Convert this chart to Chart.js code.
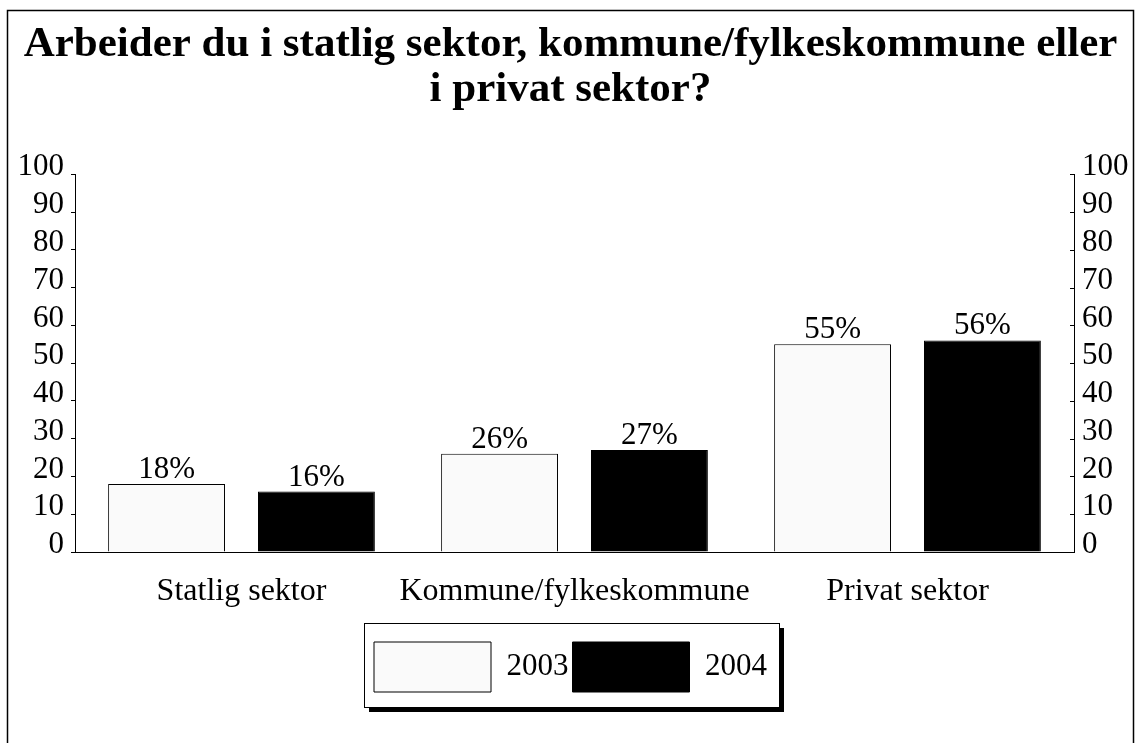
<!DOCTYPE html>
<html>
<head>
<meta charset="utf-8">
<script src="https://cdn.jsdelivr.net/npm/chart.js@4.4.0/dist/chart.umd.min.js"></script>
<style>
  html, body { margin: 0; padding: 0; background: #fff; }
  #wrap { width: 1141px; height: 743px; position: relative; }
</style>
</head>
<body>
<div id="wrap"><canvas id="chart" width="1141" height="743"></canvas></div>
<script>
// data
const categories = ['Statlig sektor', 'Kommune/fylkeskommune', 'Privat sektor'];
const seriesNames = ['2003', '2004'];
const values2003 = [18, 26, 55];
const values2004 = [16, 27, 56];
const titleLines = ['Arbeider du i statlig sektor, kommune/fylkeskommune eller', 'i privat sektor?'];
const yMin = 0;
const yMax = 100;
const yStep = 10;

const FONT = "'Liberation Serif', 'Times New Roman', serif";
Chart.defaults.font.family = FONT;
Chart.defaults.color = '#000';

// ramme rundt hele figuren
const framePlugin = {
  id: 'frame',
  beforeDraw(chart) {
    const ctx = chart.ctx;
    ctx.save();
    ctx.strokeStyle = '#000';
    ctx.lineWidth = 1.5;
    ctx.beginPath();
    ctx.moveTo(7.5, chart.height + 5);
    ctx.lineTo(7.5, 10.5);
    ctx.lineTo(1133.5, 10.5);
    ctx.lineTo(1133.5, chart.height + 5);
    ctx.stroke();
    ctx.restore();
  }
};

// boks med skygge bak legenden
const legendBoxPlugin = {
  id: 'legendBox',
  beforeDraw(chart) {
    const boxes = chart.legend && chart.legend.legendHitBoxes;
    if (!boxes || !boxes.length) return;
    const left = Math.min(...boxes.map(b => b.left)) - 10;
    const right = Math.max(...boxes.map(b => b.left + b.width)) + 12;
    const top = Math.min(...boxes.map(b => b.top)) - 19;
    const bottom = Math.max(...boxes.map(b => b.top + b.height)) + 15;
    const ctx = chart.ctx;
    ctx.save();
    ctx.fillStyle = '#000';
    ctx.fillRect(left + 5, top + 5, right - left, bottom - top);
    ctx.fillStyle = '#fff';
    ctx.fillRect(left, top, right - left, bottom - top);
    ctx.strokeStyle = '#000';
    ctx.lineWidth = 1;
    ctx.strokeRect(left + 0.5, top + 0.5, right - left, bottom - top);
    ctx.restore();
  }
};

// små streker innover på høyre akse
const rightTicksPlugin = {
  id: 'rightTicks',
  afterDraw(chart) {
    const scale = chart.scales.y2;
    const ctx = chart.ctx;
    ctx.save();
    ctx.strokeStyle = '#000';
    ctx.lineWidth = 1;
    scale.ticks.forEach(t => {
      const y = Math.round(scale.getPixelForValue(t.value)) + 0.5;
      ctx.beginPath();
      ctx.moveTo(scale.left - 4, y);
      ctx.lineTo(scale.left, y);
      ctx.stroke();
    });
    ctx.restore();
  }
};

// prosentetiketter over søylene
const barLabelPlugin = {
  id: 'barLabels',
  afterDatasetsDraw(chart) {
    const ctx = chart.ctx;
    ctx.save();
    ctx.font = '31px ' + FONT;
    ctx.fillStyle = '#000';
    ctx.textAlign = 'center';
    ctx.textBaseline = 'alphabetic';
    chart.data.datasets.forEach((ds, i) => {
      chart.getDatasetMeta(i).data.forEach((bar, j) => {
        ctx.fillText(ds.data[j] + '%', bar.x, bar.y - 6);
      });
    });
    ctx.restore();
  }
};

new Chart(document.getElementById('chart'), {
  type: 'bar',
  data: {
    labels: categories,
    datasets: [
      {
        label: seriesNames[0],
        data: values2003,
        backgroundColor: '#fafafa',
        borderColor: '#000',
        borderWidth: 1,
        categoryPercentage: 0.9,
        barPercentage: 0.78
      },
      {
        label: seriesNames[1],
        data: values2004,
        backgroundColor: '#000',
        borderColor: '#000',
        borderWidth: 1,
        categoryPercentage: 0.9,
        barPercentage: 0.78
      }
    ]
  },
  options: {
    responsive: false,
    animation: false,
    devicePixelRatio: 1,
    layout: { padding: { left: 10, right: 10, top: 0, bottom: 41 } },
    plugins: {
      title: {
        display: true,
        text: titleLines,
        color: '#000',
        font: { size: 43, weight: 'bold', lineHeight: 1.05 },
        padding: { top: 22, bottom: 62 }
      },
      legend: {
        position: 'bottom',
        labels: {
          boxWidth: 117,
          boxHeight: 50,
          padding: 4,
          color: '#000',
          font: { size: 31 }
        }
      },
      tooltip: { enabled: false }
    },
    scales: {
      x: {
        grid: { display: false },
        border: { display: true, color: '#000', width: 1 },
        ticks: { color: '#000', font: { size: 32 }, padding: 12, maxRotation: 0, minRotation: 0, autoSkip: false },
        afterFit(scale) { scale.height = 86; }
      },
      y: {
        position: 'left',
        min: yMin,
        max: yMax,
        ticks: { stepSize: yStep, autoSkip: false, color: '#000', font: { size: 31 }, padding: 7, labelOffset: -7 },
        grid: { drawOnChartArea: false, drawTicks: true, tickLength: 4, color: '#000' },
        border: { display: true, color: '#000', width: 1 },
        afterFit(scale) { scale.width = 65; }
      },
      y2: {
        position: 'right',
        min: yMin,
        max: yMax,
        ticks: { stepSize: yStep, autoSkip: false, color: '#000', font: { size: 31 }, padding: 8, labelOffset: -7 },
        grid: { drawOnChartArea: false, drawTicks: false, color: '#000' },
        border: { display: true, color: '#000', width: 1 },
        afterFit(scale) { scale.width = 57; }
      }
    }
  },
  plugins: [framePlugin, legendBoxPlugin, rightTicksPlugin, barLabelPlugin]
});
</script>
</body>
</html>
